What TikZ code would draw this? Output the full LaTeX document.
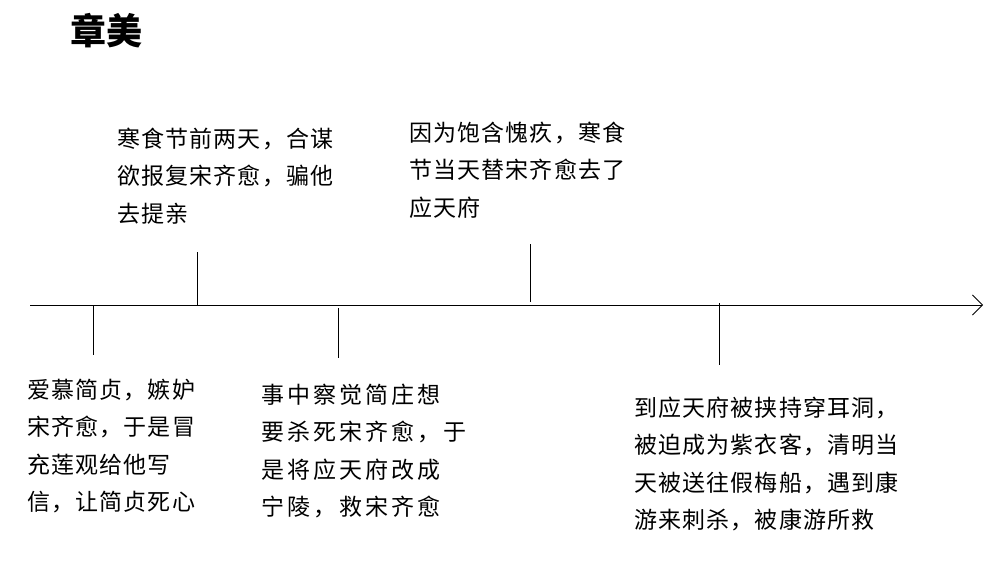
\documentclass[tikz,border=0pt]{standalone}
\usepackage{fontspec}
\setmainfont{Noto Sans CJK SC}
\usetikzlibrary{arrows.meta}
\begin{document}
\begin{tikzpicture}[x=1pt,y=-1pt,
  txt/.style={anchor=west,align=left,font=\fontsize{23}{37.5}\selectfont\addfontfeature{LetterSpace=5},inner sep=0pt},
  tick/.style={line width=0.8pt}]
\useasboundingbox (0,0) rectangle (989,562);
\node[anchor=west,inner sep=0pt,font=\fontsize{36}{40}\selectfont\bfseries] (title) at (70,31) {章美};
\coordinate (s) at (30,305); \coordinate (e) at (983,305);
\draw[line width=0.8pt,-{Straight Barb[length=10pt,width=20pt]}] (s) -- (e);
\coordinate (a1) at (93,305); \coordinate (a2) at (93,355);
\coordinate (b1) at (197,252); \coordinate (b2) at (197,305);
\coordinate (c1) at (338,308); \coordinate (c2) at (338,358);
\coordinate (d1) at (530,244); \coordinate (d2) at (530,302);
\coordinate (f1) at (719,303); \coordinate (f2) at (719,365);
\foreach \p in {a,b,c,d,f} \draw[tick] (\p1) -- (\p2);
\node[txt] (t1) at (117,176) {寒食节前两天，合谋\\欲报复宋齐愈，骗他\\去提亲};
\node[txt] (t2) at (409,170) {因为饱含愧疚，寒食\\节当天替宋齐愈去了\\应天府};
\node[txt] (t3) at (27,446) {爱慕简贞，嫉妒\\宋齐愈，于是冒\\充莲观给他写\\信，让简贞死心};
\node[txt,font=\fontsize{23}{37.5}\selectfont\addfontfeature{LetterSpace=13}] (t4) at (261,451) {事中察觉简庄想\\要杀死宋齐愈，于\\是将应天府改成\\宁陵，救宋齐愈};
\node[txt] (t5) at (634,464) {到应天府被挟持穿耳洞，\\被迫成为紫衣客，清明当\\天被送往假梅船，遇到康\\游来刺杀，被康游所救};
\end{tikzpicture}
\end{document}
